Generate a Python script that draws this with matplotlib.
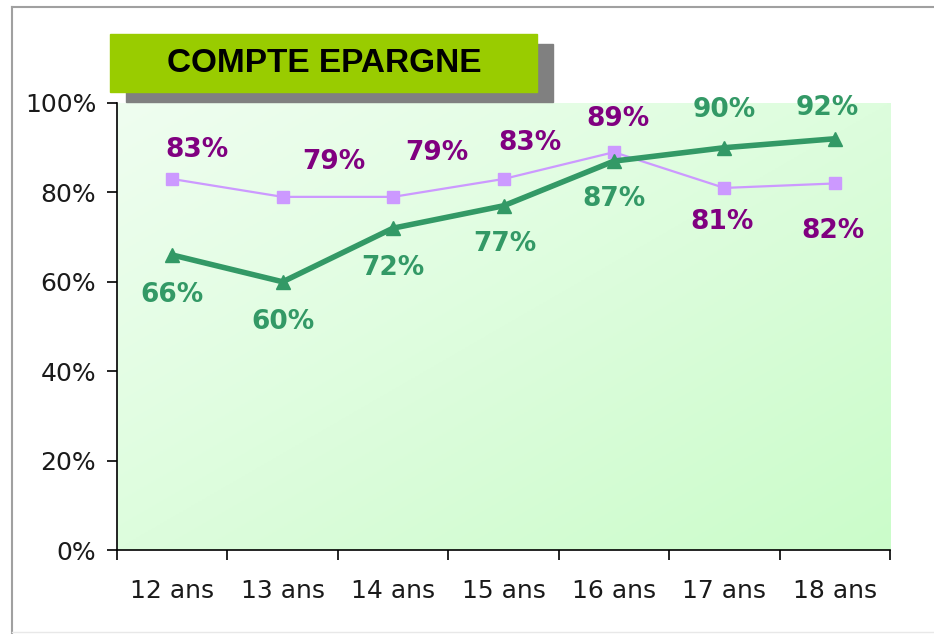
#!/usr/bin/env python3
"""Compte epargne par age - recreation du graphique Excel."""

import matplotlib
matplotlib.use("Agg")
import matplotlib.pyplot as plt
import numpy as np
from matplotlib.colors import LinearSegmentedColormap
from matplotlib.patches import Rectangle
from matplotlib.lines import Line2D

# ----- data -----
categories = ["12 ans", "13 ans", "14 ans", "15 ans", "16 ans", "17 ans", "18 ans"]
serie_verte = [66, 60, 72, 77, 87, 90, 92]
serie_violette = [83, 79, 79, 83, 89, 81, 82]
yticks = [0, 20, 40, 60, 80, 100]
titre = "COMPTE EPARGNE"

# label offsets in pixels (manual placement, as in the original)
off_vert = [(0, -40), (0, -40), (0, -40), (1, -38), (0, -38), (0, 38), (-8, 31)]
off_violet = [(25, 29), (51, 35), (44, 44), (26, 36), (4, 33), (-2, -34), (-2, -48)]

GREEN = "#339966"
PURPLE_LINE = "#cc99ff"
PURPLE_TXT = "#800080"

plt.rcParams["font.family"] = ["DejaVu Sans"]

fig = plt.figure(figsize=(9.34, 6.34), dpi=100)
W, H = 934, 634


def fx(px):
    return px / W


def fy(py):
    return 1 - py / H


ax = fig.add_axes([fx(117), fy(550), fx(890) - fx(117), fy(103) - fy(550)])

# diagonal gradient background
cmap = LinearSegmentedColormap.from_list("bg", ["#effef0", "#cbfcca"])
gx, gy = np.meshgrid(np.linspace(0, 1, 200), np.linspace(0, 1, 200))
grad = (gx + gy) / 2
ax.imshow(grad, extent=[-0.5, len(categories) - 0.5, 0, 100], origin="upper",
          cmap=cmap, aspect="auto", zorder=0)

x = np.arange(len(categories))
ax.plot(x, serie_violette, color=PURPLE_LINE, lw=1.6, marker="s", ms=8,
        mfc=PURPLE_LINE, mec=PURPLE_LINE, zorder=3)
ax.plot(x, serie_verte, color=GREEN, lw=4, marker="^", ms=10,
        mfc=GREEN, mec=GREEN, zorder=4)

for xi, v, (dx, dy) in zip(x, serie_verte, off_vert):
    ax.annotate(f"{v}%", (xi, v), xytext=(dx, dy), textcoords="offset pixels",
                ha="center", va="center", color=GREEN, fontsize=19, fontweight="bold",
                zorder=5)
for xi, v, (dx, dy) in zip(x, serie_violette, off_violet):
    ax.annotate(f"{v}%", (xi, v), xytext=(dx, dy), textcoords="offset pixels",
                ha="center", va="center", color=PURPLE_TXT, fontsize=19, fontweight="bold",
                zorder=5)

ax.set_xlim(-0.5, len(categories) - 0.5)
ax.set_ylim(0, 100)
ax.set_yticks(yticks)
ax.set_yticklabels([f"{t}%" for t in yticks])
ax.set_xticks(np.arange(len(categories) + 1) - 0.5)
ax.set_xticklabels([])
ax.set_xticks(x, minor=True)
ax.set_xticklabels(categories, minor=True)
ax.tick_params(axis="x", which="minor", length=0, pad=21, labelsize=18, labelcolor="#1a1a1a")
ax.tick_params(axis="x", which="major", length=7, width=1.2, direction="out")
ax.tick_params(axis="y", length=7, width=1.2, direction="out", pad=8,
               labelsize=18, labelcolor="#1a1a1a")
for s in ["top", "right"]:
    ax.spines[s].set_visible(False)
for s in ["left", "bottom"]:
    ax.spines[s].set_linewidth(1.2)
    ax.spines[s].set_color("black")

# title box with shadow
fig.patches.append(Rectangle((fx(126), fy(102)), fx(553) - fx(126), fy(44) - fy(102),
                             transform=fig.transFigure, color="#808080", zorder=1))
fig.patches.append(Rectangle((fx(110), fy(92)), fx(537) - fx(110), fy(34) - fy(92),
                             transform=fig.transFigure, color="#99cc00", zorder=2))
fig.text(fx(324), fy(64), titre, ha="center", va="center", fontsize=24,
         fontweight="bold", family=["Liberation Sans", "DejaVu Sans"], color="black", zorder=3)

# outer frame lines
fig.add_artist(Line2D([fx(12), fx(12)], [fy(7), fy(634)], transform=fig.transFigure,
                      color="#a0a0a0", lw=1.5))
fig.add_artist(Line2D([fx(12), 1], [fy(7), fy(7)], transform=fig.transFigure,
                      color="#a0a0a0", lw=1.5))
fig.add_artist(Line2D([fx(12), 1], [fy(632), fy(632)], transform=fig.transFigure,
                      color="#e8e8e8", lw=1))

fig.savefig("out.png", dpi=100)
